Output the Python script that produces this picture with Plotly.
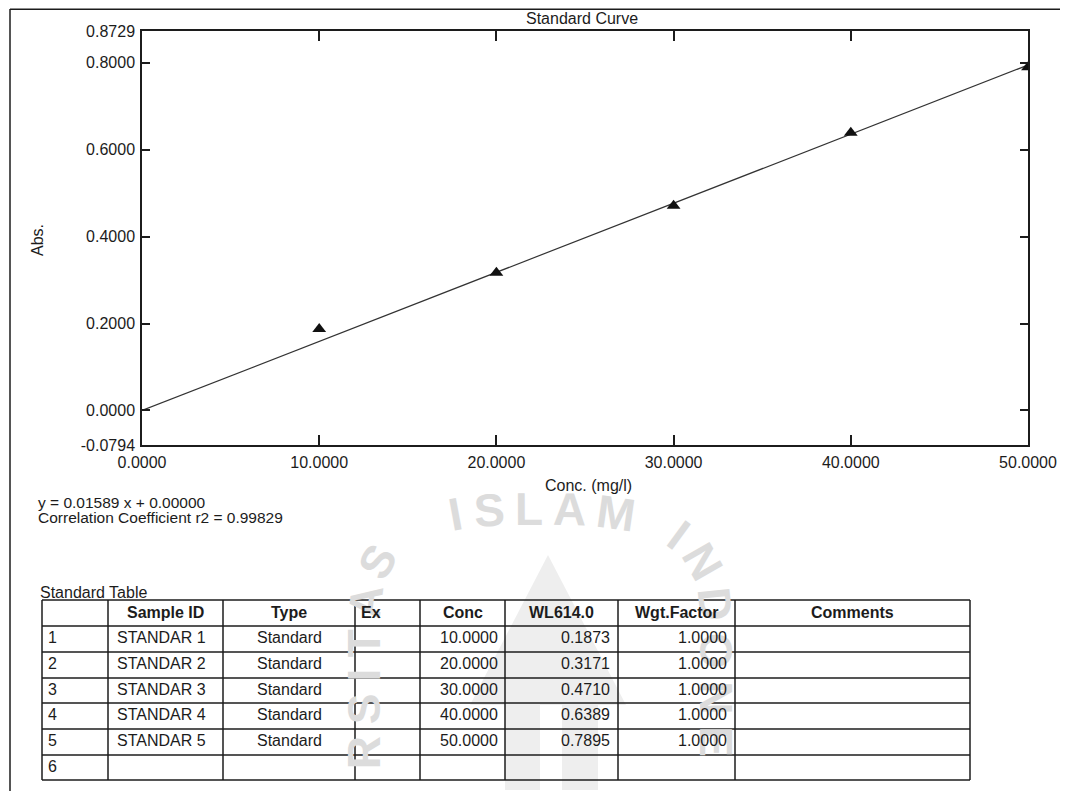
import math
import plotly.graph_objects as go

# ---------------- data ----------------
conc = [10.0, 20.0, 30.0, 40.0, 50.0]
absorbance = [0.1873, 0.3171, 0.4710, 0.6389, 0.7895]
sample_ids = ["STANDAR 1", "STANDAR 2", "STANDAR 3", "STANDAR 4", "STANDAR 5"]
sample_types = ["Standard", "Standard", "Standard", "Standard", "Standard"]
wgt_factor = [1.0, 1.0, 1.0, 1.0, 1.0]
row_numbers = ["1", "2", "3", "4", "5", "6"]
slope = 0.01589
intercept = 0.00000
r2 = 0.99829
x_ticks = [0.0, 10.0, 20.0, 30.0, 40.0, 50.0]
y_ticks = [-0.0794, 0.0, 0.2, 0.4, 0.6, 0.8, 0.8729]
x_range = [0.0, 50.0]
y_range = [-0.0794, 0.8729]
headers = ["", "Sample ID", "Type", "Ex", "Conc", "WL614.0", "Wgt.Factor", "Comments"]

W, H = 1068, 791
OFF = 8  # page body margin
FONT = "Liberation Sans, Arial, sans-serif"
INK = "#1c1c1c"


def px(x):
    return (x - OFF) / W


def py(y):
    return 1 - (y - OFF) / H


fig = go.Figure()

fit_x = [x_range[0], x_range[1]]
fit_y = [slope * v + intercept for v in fit_x]
fig.add_trace(go.Scatter(x=fit_x, y=fit_y, mode="lines",
                         line=dict(color="#333333", width=1.2), hoverinfo="skip"))
fig.add_trace(go.Scatter(x=conc, y=absorbance, mode="markers",
                         marker=dict(symbol="triangle-up", size=12, color="#111111")))

shapes = []
annotations = []

# ---------------- watermark (decorative) ----------------
wm_color = "#dcdcdc"
wm_size = 46
em = {"U": .722, "N": .722, "I": .278, "V": .667, "E": .667, "R": .722, "S": .667,
      "T": .611, "A": .667, "L": .556, "M": .833, "D": .722, "O": .778, " ": .40}
cx, cy, a, b, nexp = 540, 640, 176, 131, 3.0
pts = []
for k in range(60):
    pts.append((cx - a, 820 - (820 - cy) * k / 59))
for k in range(1, 400):
    t = math.pi - math.pi * k / 399
    c, s = math.cos(t), math.sin(t)
    pts.append((cx + a * math.copysign(abs(c) ** (2 / nexp), c), cy - b * abs(s) ** (2 / nexp)))
for k in range(1, 60):
    pts.append((cx + a, cy + (820 - cy) * k / 59))
cum = [0.0]
for i in range(1, len(pts)):
    cum.append(cum[-1] + math.dist(pts[i], pts[i - 1]))
i_top = min(range(len(pts)), key=lambda i: abs(pts[i][0] - cx) + (0 if pts[i][1] < cy else 1e6))
s_top = cum[i_top]


def at(sv):
    for i in range(1, len(cum)):
        if cum[i] >= sv:
            f = (sv - cum[i - 1]) / max(cum[i] - cum[i - 1], 1e-9)
            x0, y0 = pts[i - 1]
            x1, y1 = pts[i]
            return x0 + f * (x1 - x0), y0 + f * (y1 - y0), math.degrees(math.atan2(y1 - y0, x1 - x0))
    return None


wm_text = "UNIVERSITAS ISLAM INDONESIA"
gap = 12
centers = []
pos = 0.0
for k, ch in enumerate(wm_text):
    w = em[ch] * wm_size
    if ch == " " and k < 12:
        w += 30
    centers.append(pos + w / 2)
    pos += w + gap
i_I = wm_text.index("ISLAM")
mid = (centers[i_I] + centers[i_I + 4]) / 2
for ch, c in zip(wm_text, centers):
    if ch == " " or c - mid < -(s_top):
        continue
    res = at(s_top + (c - mid))
    if res is None:
        continue
    x, y, ang = res
    if y > 770 or y < 0:
        continue
    annotations.append(dict(x=px(x), y=py(y), xref="paper", yref="paper", text="<b>" + ch + "</b>",
                            showarrow=False, textangle=ang, xanchor="center", yanchor="middle",
                            font=dict(family=FONT, size=wm_size, color=wm_color)))
shapes.append(dict(type="path", xref="paper", yref="paper", layer="below",
                   path="M {} {} L {} {} L {} {} Z".format(px(548), py(555), px(470), py(705), px(626), py(705)),
                   fillcolor="#eeeeee", line=dict(width=0)))
shapes.append(dict(type="rect", xref="paper", yref="paper", layer="below",
                   x0=px(505), x1=px(540), y0=py(705), y1=py(790),
                   fillcolor="#eeeeee", line=dict(width=0)))
shapes.append(dict(type="rect", xref="paper", yref="paper", layer="below",
                   x0=px(562), x1=px(598), y0=py(705), y1=py(790),
                   fillcolor="#eeeeee", line=dict(width=0)))

# ---------------- page frame ----------------
shapes.append(dict(type="line", xref="paper", yref="paper", x0=px(10), x1=px(10), y0=py(9), y1=py(799),
                   line=dict(color=INK, width=1.5)))
shapes.append(dict(type="line", xref="paper", yref="paper", x0=px(10), x1=px(1076), y0=py(9.2), y1=py(9.2),
                   line=dict(color=INK, width=1.5)))


def text(x, y, s, xanchor="left", size=16, angle=0, bold=False):
    annotations.append(dict(x=px(x), y=py(y), xref="paper", yref="paper",
                            text=("<b>%s</b>" % s) if bold else s, showarrow=False,
                            xanchor=xanchor, yanchor="middle", textangle=angle,
                            font=dict(family=FONT, size=size, color=INK)))


text(582, 18, "Standard Curve", "center")
text(38, 240, "Abs.", "center", angle=-90)
text(588, 485, "Conc. (mg/l)", "center")
text(36, 502, "y = %.5f x + %.5f" % (slope, intercept), size=15.5)
text(36, 518, "Correlation Coefficient r2 = %.5f" % r2, size=15.5)
text(38, 592, "Standard Table")

col_x = [42, 108, 223, 355, 420, 505, 618, 735, 970]
row_y = [600, 626, 652, 678, 703, 729, 755, 780]
for xv in col_x:
    shapes.append(dict(type="line", xref="paper", yref="paper", x0=px(xv), x1=px(xv),
                       y0=py(row_y[0]), y1=py(row_y[-1]), line=dict(color=INK, width=1.5)))
for yv in row_y:
    shapes.append(dict(type="line", xref="paper", yref="paper", x0=px(col_x[0]), x1=px(col_x[-1]),
                       y0=py(yv), y1=py(yv), line=dict(color=INK, width=1.5)))

hy = (row_y[0] + row_y[1]) / 2 - 1
for j, h in enumerate(headers):
    if not h:
        continue
    if h == "Ex":
        text(col_x[j] + 4, hy, h, "left", bold=True)
    else:
        text((col_x[j] + col_x[j + 1]) / 2, hy, h, "center", bold=True)

for i in range(len(row_numbers)):
    ry = (row_y[i + 1] + row_y[i + 2]) / 2 - 1.5
    text(col_x[0] + 4, ry, row_numbers[i], "left")
    if i < len(sample_ids):
        text(col_x[1] + 7, ry, sample_ids[i], "left")
        text((col_x[2] + col_x[3]) / 2, ry, sample_types[i], "center")
        text(col_x[5] - 5, ry, "%.4f" % conc[i], "right")
        text(col_x[6] - 6, ry, "%.4f" % absorbance[i], "right")
        text(col_x[7] - 6, ry, "%.4f" % wgt_factor[i], "right")

axis_common = dict(showline=True, linecolor=INK, linewidth=1.5, mirror="ticks", ticks="inside",
                   tickcolor=INK, tickwidth=1.5, showgrid=False, zeroline=False, automargin=False,
                   tickfont=dict(family=FONT, size=16, color=INK))
fig.update_layout(
    width=W, height=H, margin=dict(l=0, r=0, t=0, b=0, pad=0, autoexpand=False),
    paper_bgcolor="white", plot_bgcolor="rgba(0,0,0,0)", showlegend=False,
    font=dict(family=FONT, size=16, color=INK),
    xaxis=dict(domain=[px(142), px(1028)], range=x_range, tickvals=x_ticks,
               ticktext=["%.4f" % v for v in x_ticks], ticklen=10, ticklabelstandoff=2, **axis_common),
    yaxis=dict(domain=[py(445), py(31)], range=y_range, tickvals=y_ticks,
               ticktext=["%.4f" % v for v in y_ticks], ticklen=8, ticklabelstandoff=2, **axis_common),
    shapes=shapes, annotations=annotations,
)

fig.write_html("out.html")
